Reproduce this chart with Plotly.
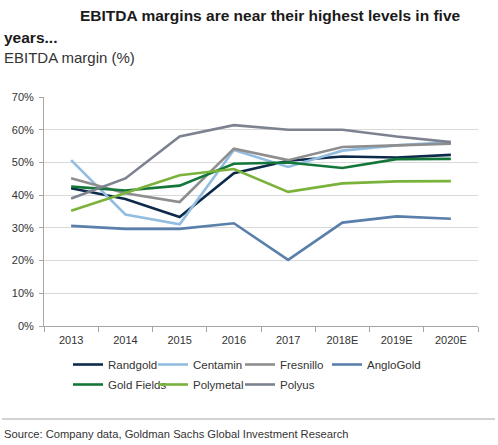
import plotly.graph_objects as go

years = ["2013", "2014", "2015", "2016", "2017", "2018E", "2019E", "2020E"]

randgold = [42.1, 38.8, 33.3, 46.7, 50.5, 51.8, 51.5, 52.3]
centamin = [50.7, 34.1, 31.1, 53.8, 48.6, 53.6, 55.2, 56.2]
fresnillo = [45.2, 40.6, 37.9, 54.2, 50.7, 54.7, 55.2, 55.7]
anglogold = [30.6, 29.7, 29.7, 31.4, 20.2, 31.6, 33.5, 32.8]
gold_fields = [42.6, 41.4, 42.9, 49.6, 50.0, 48.3, 51.0, 51.1]
polymetal = [35.2, 40.6, 46.1, 48.0, 41.0, 43.6, 44.2, 44.3]
polyus = [39.0, 45.1, 57.9, 61.4, 60.0, 60.0, 57.9, 56.2]

names = ["Randgold", "Centamin", "Fresnillo", "AngloGold", "Gold Fields", "Polymetal", "Polyus"]
values = [randgold, centamin, fresnillo, anglogold, gold_fields, polymetal, polyus]
colors = ["#0d2a4a", "#93bde0", "#8e8e8e", "#5a7fab", "#15763a", "#7bb23b", "#7d8290"]
# legend item placement (pixels from top-left of the picture)
leg_x = [68, 153, 240, 327, 68, 153, 240]
leg_y = [350, 350, 350, 350, 370, 370, 370]

W, H = 498, 445
L, T = 44, 97
R = W - 478
B = H - 326
PW = W - L - R
PH = H - T - B

def px_x(x):
    return (x - L) / PW

def px_y(y):
    return (H - B - y) / PH

sans = "Liberation Sans, Arial, sans-serif"
axis_font = dict(family=sans, size=11, color="#333333")
leg_font = dict(family=sans, size=11.5, color="#333333")

fig = go.Figure()
legends = {}
for i, (name, vals, color) in enumerate(zip(names, values, colors)):
    lid = "legend" if i == 0 else f"legend{i + 1}"
    fig.add_trace(go.Scatter(
        x=years, y=vals, name=name, mode="lines",
        line=dict(color=color, width=2.6),
        legend=lid,
    ))
    legends[lid] = dict(
        orientation="h", x=px_x(leg_x[i]), y=px_y(leg_y[i]), xanchor="left", yanchor="top",
        font=leg_font, bgcolor="rgba(0,0,0,0)",
    )

fig.update_layout(
    width=W, height=H,
    margin=dict(l=L, r=R, t=T, b=B, autoexpand=False),
    paper_bgcolor="white", plot_bgcolor="white",
    showlegend=True,
    xaxis=dict(
        type="category", showgrid=False, showline=True, linecolor="#a6a6a6", linewidth=1,
        ticks="outside", tickson="boundaries", ticklen=5, tickcolor="#a6a6a6",
        tickfont=axis_font, range=[-0.5, 7.5], fixedrange=True, ticklabelstandoff=4,
    ),
    yaxis=dict(
        range=[0, 70], dtick=10, ticksuffix="%", showgrid=True, gridcolor="#d9d9d9", gridwidth=1,
        showline=True, linecolor="#a6a6a6", linewidth=1, ticks="outside", ticklen=4,
        tickcolor="#a6a6a6", tickfont=axis_font, zeroline=False, fixedrange=True,
        ticklabelstandoff=3,
    ),
    **legends,
)

fig.add_annotation(
    text="<b>EBITDA margins are near their highest levels in five</b>",
    xref="paper", yref="paper", x=px_x(270), y=px_y(16), xanchor="center", yanchor="middle",
    showarrow=False, font=dict(family=sans, size=15.5, color="#1a1a1a"),
)
fig.add_annotation(
    text="<b>years...</b>",
    xref="paper", yref="paper", x=px_x(2), y=px_y(37), xanchor="left", yanchor="middle",
    showarrow=False, font=dict(family=sans, size=15.5, color="#1a1a1a"),
)
fig.add_annotation(
    text="EBITDA margin (%)",
    xref="paper", yref="paper", x=px_x(2), y=px_y(58), xanchor="left", yanchor="middle",
    showarrow=False, font=dict(family=sans, size=15, color="#333333"),
)
fig.add_annotation(
    text="Source: Company data, Goldman Sachs Global Investment Research",
    xref="paper", yref="paper", x=px_x(2), y=px_y(434), xanchor="left", yanchor="middle",
    showarrow=False, font=dict(family=sans, size=11.2, color="#333333"),
)
fig.add_shape(
    type="line", xref="paper", yref="paper",
    x0=px_x(2), x1=px_x(495), y0=px_y(419), y1=px_y(419),
    line=dict(color="#a6a6a6", width=1),
)

# remove the browser's default 8px page margin so the figure fills the window
fig.write_html(
    "out.html",
    config={"displayModeBar": False},
    post_script="document.body.style.margin='0';",
)
